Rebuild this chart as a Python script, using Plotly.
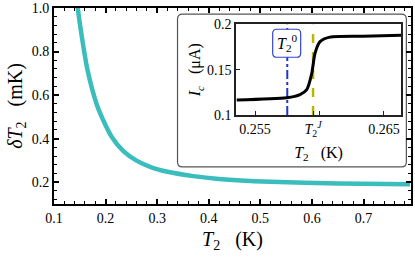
import plotly.graph_objects as go

# Main curve: delta T2 (mK) vs T2 (K)
t2_main = [0.140, 0.146, 0.155, 0.165, 0.183, 0.200, 0.212, 0.234, 0.260, 0.290, 0.320, 0.370, 0.420, 0.520, 0.650, 0.790]
dt2_main = [1.13, 1.00, 0.852, 0.715, 0.556, 0.462, 0.408, 0.344, 0.299, 0.267, 0.248, 0.228, 0.215, 0.202, 0.194, 0.191]

# Inset: Ic (uA) vs T2 (K)
t2_inset = [0.25358, 0.25746, 0.25849, 0.25901, 0.2594, 0.25965, 0.26004, 0.26081, 0.2634, 0.26632]
ic_inset = [0.1166, 0.119, 0.1225, 0.128, 0.146, 0.168, 0.181, 0.186, 0.187, 0.188]

T2J = 0.2595
T20 = 0.2575

main_xticks = [0.1, 0.2, 0.3, 0.4, 0.5, 0.6, 0.7]
main_yticks = [0.2, 0.4, 0.6, 0.8, 1.0]
inset_xticks = [0.255, T2J, 0.260, 0.265]
inset_xtext = ["0.255", "<i>T</i><sub>2</sub><sup><i>J</i></sup>", "", "0.265"]
inset_yticks = [0.1, 0.15, 0.2]

FONT = "Liberation Serif, Times New Roman, serif"


def rounded_path(x0, x1, y0, y1, rx, ry):
    return (f"M {x0+rx},{y0} L {x1-rx},{y0} Q {x1},{y0} {x1},{y0+ry} "
            f"L {x1},{y1-ry} Q {x1},{y1} {x1-rx},{y1} L {x0+rx},{y1} Q {x0},{y1} {x0},{y1-ry} "
            f"L {x0},{y0+ry} Q {x0},{y0} {x0+rx},{y0} Z")


fig = go.Figure()
fig.add_trace(go.Scatter(x=t2_main, y=dt2_main, mode="lines",
                         line=dict(color="#3BBDBD", width=4.5, shape="spline", smoothing=0.6),
                         showlegend=False, hoverinfo="skip"))
fig.add_trace(go.Scatter(x=[T2J, T2J], y=[0.1, 0.2], mode="lines", xaxis="x2", yaxis="y2",
                         line=dict(color="#B8B800", width=2.5, dash="dash"),
                         showlegend=False, hoverinfo="skip"))
fig.add_trace(go.Scatter(x=[T20, T20], y=[0.1, 0.2], mode="lines", xaxis="x2", yaxis="y2",
                         line=dict(color="#2233CC", width=2, dash="dashdot"),
                         showlegend=False, hoverinfo="skip"))
fig.add_trace(go.Scatter(x=t2_inset, y=ic_inset, mode="lines", xaxis="x2", yaxis="y2",
                         line=dict(color="black", width=3, shape="spline", smoothing=0.7),
                         showlegend=False, hoverinfo="skip"))

# rounded inset frame (paper coords)
fig.add_shape(type="path", path=rounded_path(0.346, 0.987, 0.189, 0.969, 0.014, 0.0255),
              xref="paper", yref="paper",
              line=dict(color="#555555", width=1.2), fillcolor="white", layer="below")

# rounded label box for T2^0 (inset data coords)
fig.add_shape(type="path", path=rounded_path(0.25637, 0.25854, 0.1638, 0.1947, 0.00032, 0.0045),
              xref="x2", yref="y2",
              line=dict(color="#3344CC", width=1.2), fillcolor="white", layer="above")

fig.add_annotation(x=T20, y=0.1793, xref="x2", yref="y2",
                   text="<i>T</i><sub>2</sub><sup>0</sup>", showarrow=False,
                   font=dict(family=FONT, size=16, color="black"))

axis_common = dict(showline=True, linecolor="black", mirror="ticks", ticks="inside",
                   showgrid=False, zeroline=False, tickcolor="black", automargin=False)

fig.update_layout(
    width=415, height=261,
    margin=dict(l=54, r=4, t=8, b=57),
    paper_bgcolor="white", plot_bgcolor="rgba(0,0,0,0)",
    font=dict(family=FONT, size=14, color="black"),
    xaxis=dict(**axis_common, range=[0.1, 0.792], tickvals=main_xticks,
               ticktext=[f"{v:.1f}" for v in main_xticks],
               linewidth=2, ticklen=5, tickwidth=1.5,
               minor=dict(dtick=0.02, tick0=0.1, ticks="inside", ticklen=3, tickcolor="black", tickwidth=1),
               title=dict(text="<i>T</i><sub>2</sub>   (K)", font=dict(size=20), standoff=7)),
    yaxis=dict(**axis_common, range=[0.1, 1.0], tickvals=main_yticks,
               ticktext=[f"{v:.1f}" for v in main_yticks],
               linewidth=2, ticklen=5, tickwidth=1.5,
               minor=dict(dtick=0.04, tick0=0.2, ticks="inside", ticklen=3, tickcolor="black", tickwidth=1),
               title=dict(text="<i>δT</i><sub>2</sub>   (mK)", font=dict(size=20), standoff=4)),
    xaxis2=dict(showline=True, linecolor="#222222", mirror=True, ticks="inside",
                showgrid=False, zeroline=False, tickcolor="#222222", automargin=False,
                domain=[0.510, 0.972], anchor="y2", range=[0.25353, 0.26632],
                tickvals=inset_xticks, ticktext=inset_xtext, linewidth=1.5, ticklen=4,
                title=dict(text="<i>T</i><sub>2</sub>   (K)", font=dict(size=16), standoff=9)),
    yaxis2=dict(showline=True, linecolor="#222222", mirror=True, ticks="inside",
                showgrid=False, zeroline=False, tickcolor="#222222", automargin=False,
                domain=[0.454, 0.916], anchor="x2", range=[0.1, 0.2],
                tickvals=inset_yticks, ticktext=["0.1", "0.15", "0.2"], linewidth=1.5, ticklen=4,
                title=dict(text="<i>I</i><sub><i>c</i></sub>   (μA)", font=dict(size=16), standoff=2)),
)

# remove the browser's default 8px body margin so the figure sits at the page origin
fig.write_html("out.html", config={"displayModeBar": False},
               post_script="document.body.style.margin='0';")
